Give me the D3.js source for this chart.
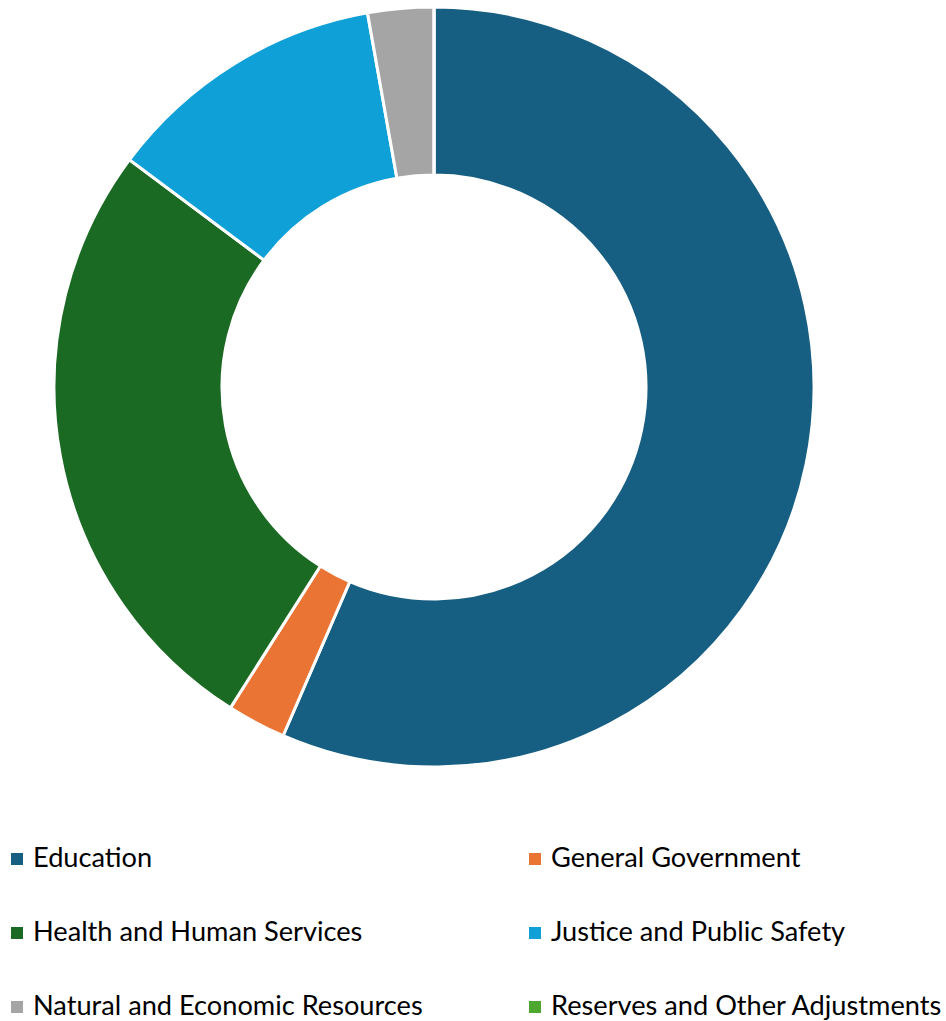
<!DOCTYPE html>
<html>
<head>
<meta charset="utf-8">
<script src="https://cdn.jsdelivr.net/npm/d3@7"></script>
<style>
  body { margin: 0; background: #fff; }
  .legendText { font-family: Lato, "Noto Sans", sans-serif; font-size: 27.2px; fill: #000; }
</style>
</head>
<body>
<script>
// chart data (share of budget, %)
var categories = ["Education", "General Government", "Health and Human Services",
  "Justice and Public Safety", "Natural and Economic Resources", "Reserves and Other Adjustments"];
var shares = [56.5, 2.5, 26.2, 12.0, 2.8, 0];
var colors = ["#165E82", "#EA7434", "#1B6A24", "#10A0D8", "#A5A5A5", "#4EA72E"];

var svgWidth = 946;
var svgHeight = 1021;

var svg = d3.select("body")
  .append("svg")
  .attr("width", svgWidth)
  .attr("height", svgHeight);

var cx = 434, cy = 387;
var outerR = 380, innerR = 212;

var pie = d3.pie().sort(null).value(d => d);
var arc = d3.arc().innerRadius(innerR).outerRadius(outerR);

var donut = svg.append("g")
  .attr("transform", `translate(${cx}, ${cy})`);

donut.selectAll("path")
  .data(pie(shares))
  .enter()
  .append("path")
  .attr("d", arc)
  .attr("fill", (d, i) => colors[i])
  .attr("stroke", "#fff")
  .attr("stroke-width", 3);

// legend, two columns x three rows
var colX = d3.scaleOrdinal().domain([0, 1]).range([11, 529]);
var rowY = d3.scaleLinear().domain([0, 2]).range([867, 1015]);

var items = svg.selectAll(".legendItem")
  .data(categories)
  .enter()
  .append("g")
  .attr("class", "legendItem")
  .attr("transform", (d, i) => `translate(${colX(i % 2)}, ${rowY(Math.floor(i / 2))})`);

items.append("rect")
  .attr("x", 0)
  .attr("y", -14)
  .attr("width", 12)
  .attr("height", 12)
  .attr("fill", (d, i) => colors[i]);

items.append("text")
  .attr("class", "legendText")
  .attr("x", 22)
  .attr("y", 0)
  .text(d => d);
</script>
</body>
</html>
